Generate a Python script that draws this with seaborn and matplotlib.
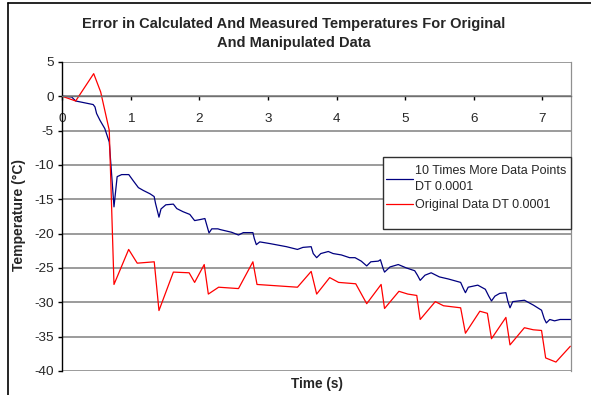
import matplotlib
matplotlib.use("Agg")
import matplotlib.pyplot as plt
from matplotlib.lines import Line2D
from matplotlib.patches import Rectangle
import seaborn as sns
import pandas as pd

# Original data, DT 0.0001 (sparse samples)
orig_time = [0.0, 0.195, 0.458, 0.56, 0.685, 0.754, 0.968, 1.093, 1.341, 1.41,
             1.62, 1.85, 1.93, 2.07, 2.13, 2.28, 2.57, 2.78, 2.84, 3.43,
             3.63, 3.71, 3.90, 4.03, 4.28, 4.44, 4.65, 4.70, 4.91, 5.04,
             5.17, 5.22, 5.44, 5.56, 5.81, 5.88, 6.09, 6.20, 6.26, 6.47,
             6.53, 6.74, 6.87, 6.99, 7.05, 7.20, 7.41]
orig_temp = [0.0, -0.68, 3.3, 0.63, -4.95, -27.4, -22.3, -24.3, -24.1, -31.2,
             -25.6, -25.7, -27.1, -24.5, -28.8, -27.8, -28.0, -24.1, -27.4, -27.8,
             -25.5, -28.8, -26.4, -27.1, -27.3, -30.2, -27.4, -30.9, -28.4, -28.8,
             -29.0, -32.5, -29.9, -30.5, -30.8, -34.5, -31.3, -31.6, -35.3, -32.2,
             -36.2, -33.7, -34.0, -34.1, -38.1, -38.7, -36.4]

# Ten times more data points, DT 0.0001
dense_time = [0.0, 0.137, 0.195, 0.45, 0.477, 0.50, 0.55, 0.62, 0.685, 0.754,
              0.80, 0.866, 0.97, 1.035, 1.11, 1.18, 1.28, 1.34, 1.36, 1.41,
              1.44, 1.51, 1.62, 1.67, 1.76, 1.86, 1.93, 2.01, 2.08, 2.14,
              2.18, 2.27, 2.30, 2.47, 2.57, 2.64, 2.78, 2.80, 2.83, 2.88,
              3.03, 3.27, 3.43, 3.51, 3.63, 3.66, 3.71, 3.77, 3.88, 3.95,
              4.07, 4.19, 4.27, 4.36, 4.44, 4.50, 4.61, 4.64, 4.68, 4.70,
              4.78, 4.90, 5.02, 5.14, 5.18, 5.22, 5.29, 5.38, 5.50, 5.63,
              5.81, 5.85, 5.88, 5.92, 6.06, 6.17, 6.22, 6.26, 6.31, 6.38,
              6.47, 6.50, 6.53, 6.57, 6.74, 6.87, 6.99, 7.03, 7.06, 7.11,
              7.18, 7.26, 7.43]
dense_temp = [0.0, -0.1, -0.68, -1.2, -1.55, -2.5, -3.5, -4.7, -6.65, -16.1,
              -11.7, -11.4, -11.4, -12.3, -13.3, -13.7, -14.2, -14.6, -15.6, -17.6,
              -16.4, -15.8, -15.7, -16.35, -16.8, -17.2, -18.1, -17.95, -17.8, -19.9,
              -19.3, -19.3, -19.4, -19.8, -20.2, -19.85, -19.85, -20.7, -21.6, -21.2,
              -21.45, -21.9, -22.3, -22.0, -21.9, -22.9, -23.5, -22.9, -22.6, -22.9,
              -23.1, -23.5, -23.5, -24.0, -24.7, -24.1, -24.0, -23.8, -25.1, -25.6,
              -24.85, -24.5, -25.0, -25.4, -26.05, -26.8, -26.05, -25.7, -26.3, -26.6,
              -27.1, -28.0, -28.6, -27.8, -27.5, -28.1, -29.1, -29.8, -29.1, -28.7,
              -28.6, -29.9, -30.8, -29.9, -29.7, -30.4, -31.15, -32.4, -33.0, -32.5,
              -32.7, -32.5, -32.5]

y_ticks = [5, 0, -5, -10, -15, -20, -25, -30, -35, -40]
x_ticks = [0, 1, 2, 3, 4, 5, 6, 7]

sns.set_theme(style="white")
plt.rcParams["font.family"] = ["Liberation Sans", "DejaVu Sans"]
plt.rcParams["axes.unicode_minus"] = False

fig = plt.figure(figsize=(5.91, 3.95), dpi=100)
ax = fig.add_axes([0.1054, 0.0608, 0.8608, 0.7823])

dense_df = pd.DataFrame({"t": dense_time, "T": dense_temp})
orig_df = pd.DataFrame({"t": orig_time, "T": orig_temp})
sns.lineplot(data=dense_df, x="t", y="T", ax=ax, sort=False, estimator=None,
             color="#000080", linewidth=0.9, label="10 Times More Data Points\nDT 0.0001")
sns.lineplot(data=orig_df, x="t", y="T", ax=ax, sort=False, estimator=None,
             color="#FF0000", linewidth=0.9, label="Original Data DT 0.0001")

ax.set_xlim(0, 7.42)
ax.set_ylim(-40, 5)
ax.set_yticks(y_ticks)
ax.set_xticks(x_ticks)
ax.grid(axis="y", color="#808080", linewidth=1.1)
ax.grid(axis="x", visible=False)
ax.set_axisbelow(True)

ax.spines["top"].set_visible(False)
ax.spines["right"].set_color("#909090")
ax.spines["right"].set_linewidth(0.9)
ax.spines["left"].set_color("black")
ax.spines["left"].set_linewidth(1.0)
ax.spines["bottom"].set_position(("data", 0))
ax.spines["bottom"].set_color("#707070")
ax.spines["bottom"].set_linewidth(1.0)

ax.tick_params(axis="y", direction="out", length=3, width=1, color="black",
               pad=3, labelsize=9.7, left=True)
ax.tick_params(axis="x", direction="out", length=3, width=1, color="black",
               pad=9, labelsize=9.7, bottom=True)

ax.set_xlabel("")
ax.set_ylabel("")
fig.text(0.537, 0.028, "Time (s)", ha="center", va="center",
         fontsize=9.8, fontweight="bold")
fig.text(0.032, 0.455, "Temperature (\u00b0C)", ha="center", va="center",
         rotation=90, fontsize=10, fontweight="bold")
fig.text(0.497, 0.915, "Error in Calculated And Measured Temperatures For Original\nAnd Manipulated Data",
         ha="center", va="center", fontsize=10.55, fontweight="bold", linespacing=1.45)

# legend frame and entries
x0, y0 = 383 / 591, 1 - 229 / 395
w, h = (571 - 383) / 591, (229 - 157) / 395
ax.add_patch(Rectangle((x0, y0), w, h, transform=fig.transFigure, facecolor="white",
                       edgecolor="#303030", linewidth=1.0, zorder=4, clip_on=False))
leg = ax.legend(loc="upper left", bbox_to_anchor=(x0 - 0.002, y0 + h - 0.010),
                bbox_transform=fig.transFigure, frameon=False, fontsize=9,
                handlelength=2.2, handletextpad=0.15, labelspacing=0.5,
                borderaxespad=0, borderpad=0.3)
for t in leg.get_texts():
    t.set_linespacing(1.45)
leg.set_zorder(5)

# outer chart border
fig.add_artist(Line2D([7.5 / 591, 7.5 / 591], [0, 1 - 3 / 395], color="black", linewidth=1.2))
fig.add_artist(Line2D([7.5 / 591, 1], [1 - 3 / 395, 1 - 3 / 395], color="black", linewidth=1.2))

fig.savefig("out.png", dpi=100)
